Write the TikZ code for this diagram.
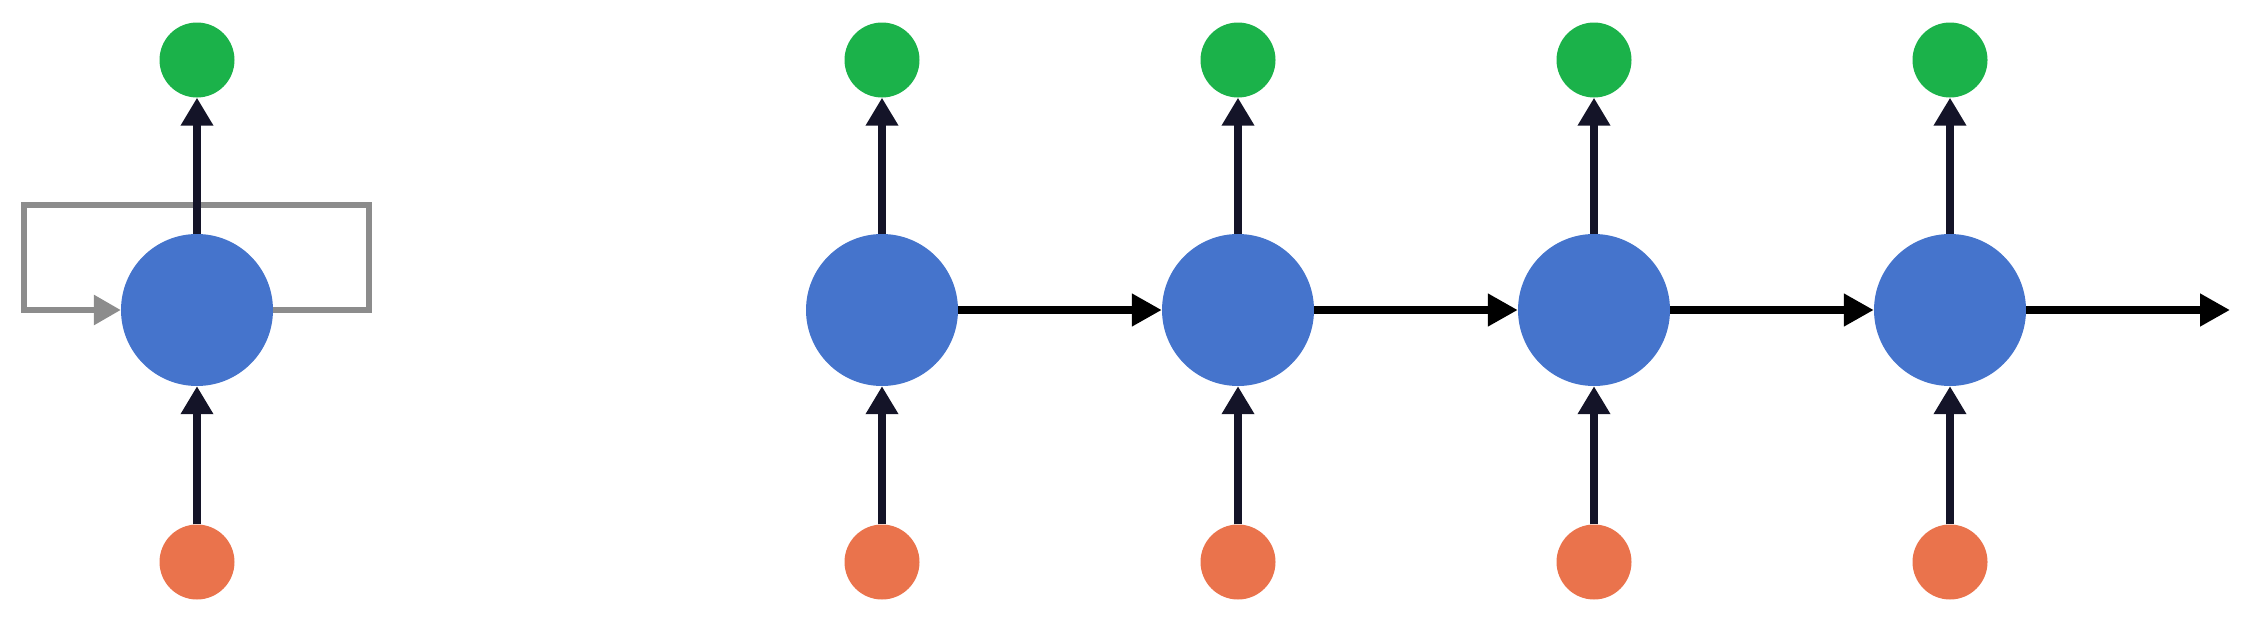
\documentclass[tikz,border=0pt]{standalone}
\usetikzlibrary{arrows.meta}
\definecolor{cgreen}{RGB}{27,178,74}
\definecolor{cblue}{RGB}{69,116,204}
\definecolor{corange}{RGB}{234,115,76}
\definecolor{cgray}{RGB}{140,140,140}
\definecolor{cnavy}{RGB}{20,20,40}
\begin{document}
\begin{tikzpicture}[x=1pt,y=-1pt,
  hid/.style={circle,fill=cblue,minimum size=152pt,inner sep=0pt},
  outn/.style={circle,fill=cgreen,minimum size=75pt,inner sep=0pt},
  inn/.style={circle,fill=corange,minimum size=75pt,inner sep=0pt},
  varr/.style={line width=7.5pt,draw=cnavy,-{Triangle[length=28pt,width=31pt]}},
  harr/.style={line width=7.5pt,draw=black,-{Triangle[length=30pt,width=31pt]}},
  looparr/.style={line width=6pt,draw=cgray,-{Triangle[length=27pt,width=29pt]},line join=miter}]
\useasboundingbox (0,0) rectangle (2248,627);
% folded unit
\node[hid] (b0) at (197,310) {};
\node[outn] (g0) at (197,60) {};
\node[inn] (o0) at (197,562) {};
\coordinate (lr) at (369,310);
\coordinate (ur) at (369,205);
\coordinate (ul) at (24,205);
\coordinate (ll) at (24,310);
\draw[looparr] (b0.east) -- (lr) -- (ur) -- (ul) -- (ll) -- (b0.west);
\draw[varr] (b0.north) -- (g0.south);
\draw[varr] (o0.north) -- (b0.south);
% unrolled
\foreach \i/\x in {1/882,2/1238,3/1594,4/1950}{
  \node[hid] (b\i) at (\x,310) {};
  \node[outn] (g\i) at (\x,60) {};
  \node[inn] (o\i) at (\x,562) {};
  \draw[varr] (b\i.north) -- (g\i.south);
  \draw[varr] (o\i.north) -- (b\i.south);
}
\coordinate (end) at (2230,310);
\draw[harr] (b1.east) -- (b2.west);
\draw[harr] (b2.east) -- (b3.west);
\draw[harr] (b3.east) -- (b4.west);
\draw[harr] (b4.east) -- (end);
\end{tikzpicture}
\end{document}
